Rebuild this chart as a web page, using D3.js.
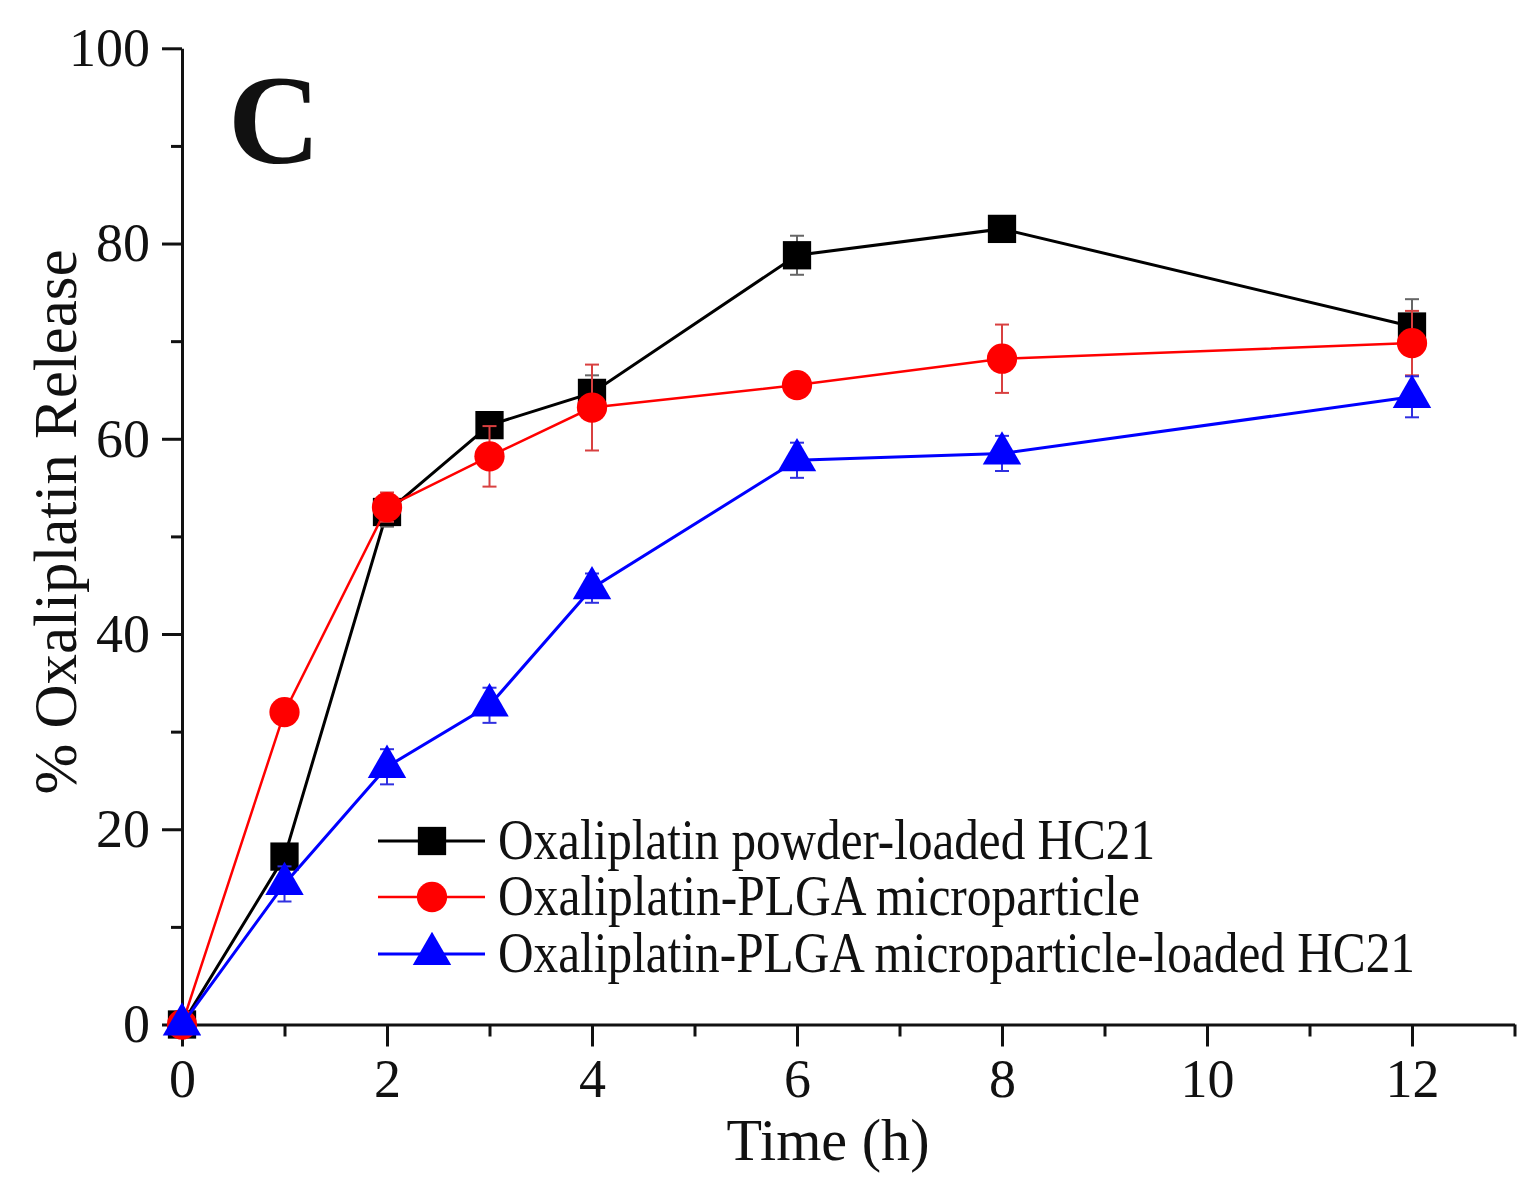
<!DOCTYPE html>
<html>
<head>
<meta charset="utf-8">
<script src="https://cdn.jsdelivr.net/npm/d3@7.9.0/dist/d3.min.js"></script>
<style>
  html, body { margin: 0; padding: 0; background: #fff; }
  svg { display: block; }
  text { font-family: "Liberation Serif", "DejaVu Serif", serif; fill: #111; }
</style>
</head>
<body>
<div id="chart"></div>
<script>
// time points (h)
const times = [0, 1, 2, 3, 4, 6, 8, 12];

// % release for each formulation
const powderHC21 = [0, 17.2, 52.5, 61.4, 64.7, 78.8, 81.5, 71.5];
const powderHC21Err = [0, 0.5, 1.5, 1.2, 1.8, 2.0, 0.5, 2.8];

const plgaMP = [0, 32.0, 53.0, 58.2, 63.2, 65.5, 68.2, 69.8];
const plgaMPErr = [0, 0.5, 1.5, 3.1, 4.4, 0.5, 3.5, 3.3];

const plgaMPHC21 = [0, 14.4, 26.4, 32.7, 44.7, 57.8, 58.5, 64.3];
const plgaMPHC21Err = [0, 1.8, 1.8, 1.8, 1.5, 1.8, 1.8, 2.1];

const seriesNames = [
  'Oxaliplatin powder-loaded HC21',
  'Oxaliplatin-PLGA microparticle',
  'Oxaliplatin-PLGA microparticle-loaded HC21'
];

const xMajorTicks = [0, 2, 4, 6, 8, 10, 12];
const xMinorTicks = [1, 3, 5, 7, 9, 11, 13];
const yMajorTicks = [0, 20, 40, 60, 80, 100];
const yMinorTicks = [10, 30, 50, 70, 90];

const width = 1535;
const height = 1189;

const series = [
  { name: seriesNames[0], values: powderHC21, err: powderHC21Err, color: '#000000', errColor: '#666666', lw: 3, shape: d3.symbolSquare, size: 800, legendW: 657 },
  { name: seriesNames[1], values: plgaMP, err: plgaMPErr, color: '#ff0000', errColor: '#d84040', lw: 2.5, shape: d3.symbolCircle, size: 720, legendW: 642 },
  { name: seriesNames[2], values: plgaMPHC21, err: plgaMPHC21Err, color: '#0000ff', errColor: '#3030e0', lw: 3, shape: d3.symbolTriangle, size: 640, legendW: 917 }
];

const xScale = d3.scaleLinear().domain([0, 13]).range([182, 1514.5]);
const yScale = d3.scaleLinear().domain([0, 100]).range([1024.5, 48.3]);

const svg = d3.select('#chart')
  .append('svg')
  .attr('width', width)
  .attr('height', height)
  .attr('viewBox', `0 0 ${width} ${height}`);

// axes
function styleAxis(g) {
  g.select('.domain').attr('stroke', '#111').attr('stroke-width', 3);
  g.selectAll('.tick line').attr('stroke', '#111').attr('stroke-width', 3);
  g.selectAll('.tick text').attr('fill', '#111').style('font-size', '54px');
}

svg.append('g')
  .attr('transform', `translate(0, ${yScale(0)})`)
  .call(d3.axisBottom(xScale).tickValues(xMinorTicks).tickSize(12).tickSizeOuter(0).tickFormat(''))
  .call(styleAxis);

svg.append('g')
  .attr('transform', `translate(0, ${yScale(0)})`)
  .call(d3.axisBottom(xScale).tickValues(xMajorTicks).tickSize(22).tickSizeOuter(0).tickPadding(12))
  .call(styleAxis)
  .call(g => g.select('.domain').remove());

svg.append('g')
  .attr('transform', `translate(${xScale(0)}, 0)`)
  .call(d3.axisLeft(yScale).tickValues(yMinorTicks).tickSize(11).tickSizeOuter(0).tickFormat(''))
  .call(styleAxis);

svg.append('g')
  .attr('transform', `translate(${xScale(0)}, 0)`)
  .call(d3.axisLeft(yScale).tickValues(yMajorTicks).tickSize(20).tickSizeOuter(0).tickPadding(12))
  .call(styleAxis)
  .call(g => g.select('.domain').remove());

// axis titles
svg.append('text')
  .attr('x', 828)
  .attr('y', 1160)
  .attr('text-anchor', 'middle')
  .style('font-size', '60px')
  .attr('textLength', 203)
  .attr('lengthAdjust', 'spacingAndGlyphs')
  .text('Time (h)');

svg.append('text')
  .attr('transform', 'translate(76, 522) rotate(-90)')
  .attr('text-anchor', 'middle')
  .style('font-size', '62px')
  .attr('textLength', 545)
  .attr('lengthAdjust', 'spacingAndGlyphs')
  .text('% Oxaliplatin Release');

// panel letter
svg.append('text')
  .attr('x', 228)
  .attr('y', 163)
  .style('font-size', '128px')
  .style('font-weight', 'bold')
  .text('C');

// series
const line = d3.line()
  .x((d, i) => xScale(times[i]))
  .y(d => yScale(d));

series.forEach(s => {
  const g = svg.append('g');

  g.append('path')
    .datum(s.values)
    .attr('d', line)
    .attr('fill', 'none')
    .attr('stroke', s.color)
    .attr('stroke-width', s.lw);

  const pts = s.values.map((v, i) => ({ t: times[i], v, e: s.err[i] }))
    .filter(d => d.e > 0);

  g.selectAll('line.err')
    .data(pts)
    .join('line')
    .attr('x1', d => xScale(d.t))
    .attr('x2', d => xScale(d.t))
    .attr('y1', d => yScale(d.v - d.e))
    .attr('y2', d => yScale(d.v + d.e))
    .attr('stroke', s.errColor)
    .attr('stroke-width', 2);

  [-1, 1].forEach(sign => {
    g.selectAll(null)
      .data(pts)
      .join('line')
      .attr('x1', d => xScale(d.t) - 7)
      .attr('x2', d => xScale(d.t) + 7)
      .attr('y1', d => yScale(d.v + sign * d.e))
      .attr('y2', d => yScale(d.v + sign * d.e))
      .attr('stroke', s.errColor)
      .attr('stroke-width', 2);
  });

  g.selectAll('path.mark')
    .data(s.values)
    .join('path')
    .attr('class', 'mark')
    .attr('transform', (d, i) => `translate(${xScale(times[i])}, ${yScale(d)})`)
    .attr('d', d3.symbol(s.shape, s.size))
    .attr('fill', s.color);
});

// legend
const legend = svg.append('g');
const legendY = [841, 897, 954];

series.forEach((s, i) => {
  const y = legendY[i];
  legend.append('line')
    .attr('x1', 378).attr('x2', 485)
    .attr('y1', y).attr('y2', y)
    .attr('stroke', s.color)
    .attr('stroke-width', s.lw);
  legend.append('path')
    .attr('transform', `translate(432, ${y})`)
    .attr('d', d3.symbol(s.shape, s.size))
    .attr('fill', s.color);
  legend.append('text')
    .attr('x', 498)
    .attr('y', y + 18)
    .style('font-size', '56px')
    .attr('textLength', s.legendW)
    .attr('lengthAdjust', 'spacingAndGlyphs')
    .text(s.name);
});
</script>
</body>
</html>
